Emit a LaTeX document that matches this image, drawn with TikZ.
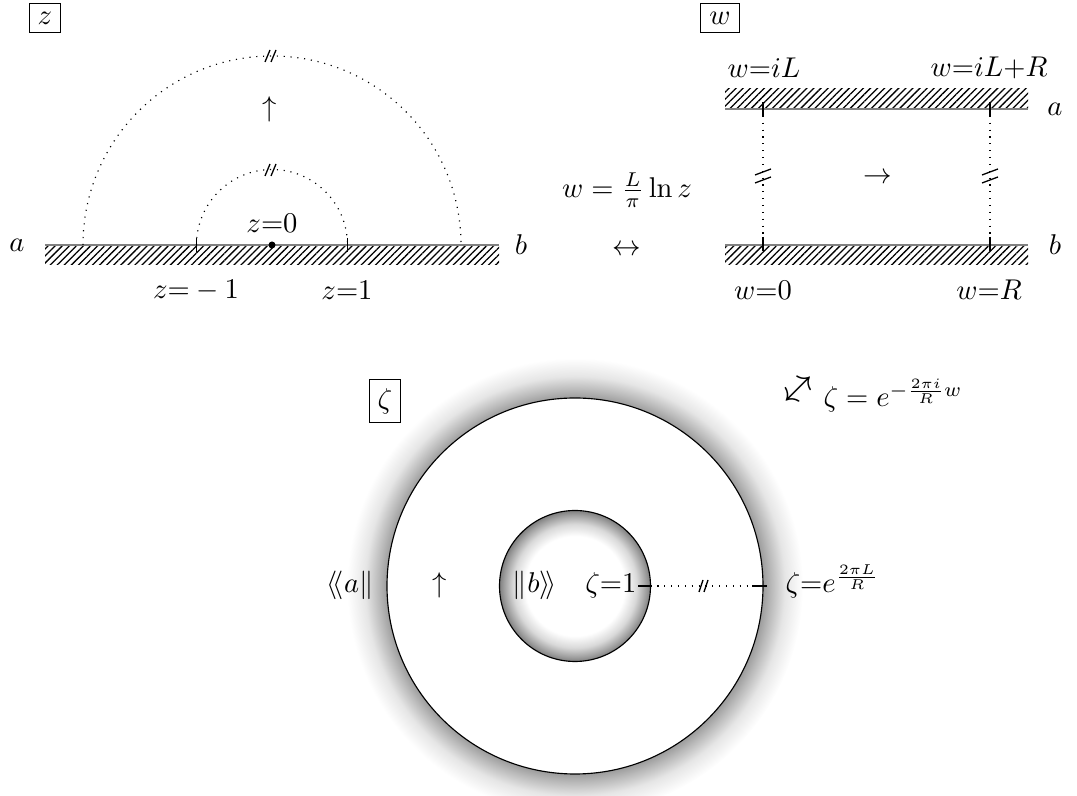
\documentclass[tikz,border=0pt]{standalone}
\usetikzlibrary{patterns.meta}
\pgfdeclareradialshading{outerglow}{\pgfpoint{0bp}{0bp}}{color(0bp)=(white); color(20.5bp)=(gray!80); color(21.5bp)=(gray!55); color(23bp)=(gray!20); color(25bp)=(white); color(50bp)=(white)}
\pgfdeclareradialshading{innerglow}{\pgfpoint{0bp}{0bp}}{color(0bp)=(white); color(16.5bp)=(white); color(20.5bp)=(gray!30); color(23.5bp)=(gray!75); color(25bp)=(gray!100); color(50bp)=(gray!100)}
\begin{document}
\begin{tikzpicture}[x=0.35pt,y=-0.35pt,
  planebox/.style={draw,line width=0.4pt,inner sep=3pt},
  wall/.style={draw=gray,line width=0.8pt},
  hatch/.style={pattern={Lines[angle=45,distance=1.75pt,line width=0.45pt]}},
  guide/.style={dotted,line width=0.4pt},
  tickmark/.style={line width=0.45pt},
  brk/.style={line width=0.45pt}]
\useasboundingbox (0,0) rectangle (1077,796);

% ---------- z plane ----------
\node[planebox] (zb) at (45,18) {$z$};
\fill[hatch] (45,245) rectangle (499,265);
\draw[wall] (45,245) -- (499,245);
\coordinate (O) at (272,245);
\coordinate (zbigL) at (83,245);
\coordinate (zsmL) at (196.5,245);
\draw[guide] (zbigL) arc[start angle=180,end angle=360,radius=189];
\draw[guide] (zsmL) arc[start angle=180,end angle=360,radius=75.5];
\draw[tickmark] (196.5,238) -- (196.5,252);
\draw[tickmark] (347.5,238) -- (347.5,252);
\fill (O) circle[radius=3.5];
\draw[brk] (265,62) -- (270,50) (271,62) -- (276,50);
\draw[brk] (265,176) -- (270,164) (271,176) -- (276,164);
\node (za) at (17,245) {$a$};
\node (zbb) at (521,245) {$b$};
\node (z0) at (272,223) {$z{=}0$};
\node (zm1) at (196,290) {$z{=}-1$};
\node (zp1) at (347,290) {$z{=}1$};
\node (zup) at (270,109) {$\uparrow$};

% ---------- w plane ----------
\node[planebox] (wb) at (720,18) {$w$};
\fill[hatch] (725,89) rectangle (1028,109);
\draw[wall] (725,109) -- (1028,109);
\fill[hatch] (725,245) rectangle (1028,265);
\draw[wall] (725,245) -- (1028,245);
\coordinate (wTL) at (763,109);
\coordinate (wBL) at (763,245);
\coordinate (wTR) at (990,109);
\coordinate (wBR) at (990,245);
\draw[guide] (wTL) -- (wBL);
\draw[guide] (wTR) -- (wBR);
\draw[tickmark] (763,102) -- (763,117);
\draw[tickmark] (763,237) -- (763,251);
\draw[tickmark] (990,102) -- (990,117);
\draw[tickmark] (990,237) -- (990,251);
\draw[brk] (755,175) -- (771,169) (755,183) -- (771,177);
\draw[brk] (982,175) -- (998,169) (982,183) -- (998,177);
\node (wiL) at (764,68) {$w{=}iL$};
\node (wiLR) at (989,68) {$w{=}iL{+}R$};
\node (wa) at (1055,109) {$a$};
\node (wbb) at (1055,245) {$b$};
\node (w0) at (763,290) {$w{=}0$};
\node (wR) at (989,290) {$w{=}R$};
\node (wright) at (878,178) {$\rightarrow$};

% ---------- map ----------
\node (map1) at (627,190) {$w = \frac{L}{\pi}\ln z$};
\node (map1a) at (627,250) {$\leftrightarrow$};

% ---------- zeta plane ----------
\coordinate (C) at (575,586);
\shade[shading=outerglow] (C) circle[radius=228];
\filldraw[fill=white,draw=black,line width=0.4pt] (C) circle[radius=188];
\shade[shading=innerglow] (C) circle[radius=75.5];
\draw[line width=0.4pt] (C) circle[radius=75.5];
\node[planebox] (zeb) at (385,401) {$\zeta$};
\coordinate (ri) at (650.5,586);
\coordinate (ro) at (763,586);
\draw[guide] (ri) -- (ro);
\draw[tickmark] (638,586) -- (652,586);
\draw[tickmark] (752,586) -- (767,586);
\draw[brk] (699,592) -- (703,580) (704,592) -- (708,580);
\node[anchor=base] (la) at (350,593) {$\langle\!\langle a\|$};
\node[anchor=base] (lup) at (440,593) {$\uparrow$};
\node[anchor=base] (lb) at (535,593) {$\|b\rangle\!\rangle$};
\node[anchor=base east,inner sep=0pt] (z1) at (637,593) {$\zeta{=}1$};
\node[anchor=base west,inner sep=0pt] (zR) at (785,593) {$\zeta{=}e^{\frac{2\pi L}{R}}$};
\node[anchor=base west,inner sep=0pt] (map2) at (781,407) {\raisebox{-1pt}{\scalebox{1.35}{\rotatebox{45}{$\leftrightarrow$}}}$\,\zeta = e^{-\frac{2\pi i}{R}w}$};
\end{tikzpicture}
\end{document}
